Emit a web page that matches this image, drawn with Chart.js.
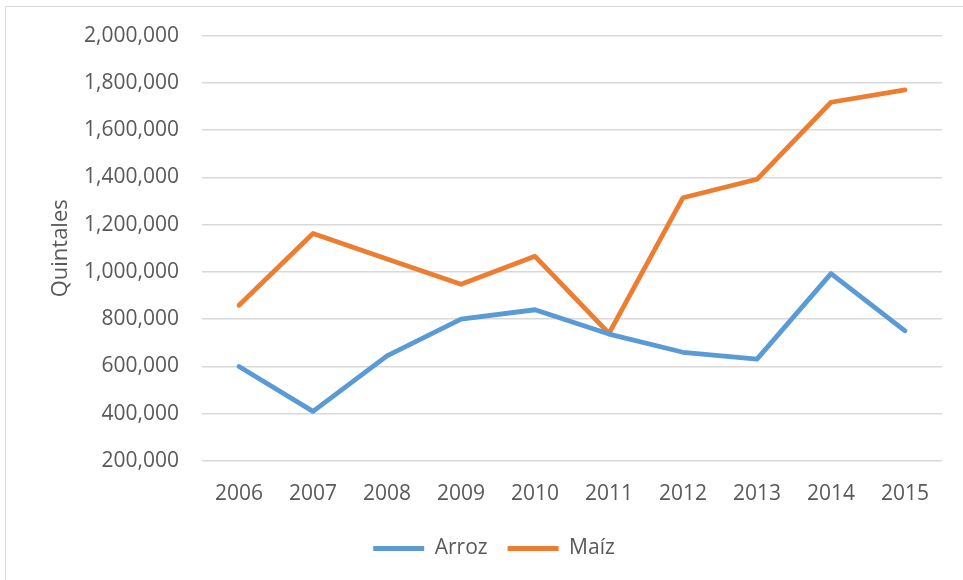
<!DOCTYPE html>
<html>
<head>
<meta charset="utf-8">
<script src="https://cdn.jsdelivr.net/npm/chart.js@4.4.1/dist/chart.umd.min.js"></script>
<style>
  html, body { margin: 0; padding: 0; background: #fff; }
  body { width: 963px; height: 580px; overflow: hidden; position: relative; }
  #frame { position: absolute; left: 5px; top: 6px; width: 1000px; height: 620px; border: 1.5px solid #d9d9d9; box-sizing: border-box; }
  #wrap { position: absolute; left: 0; top: 0; width: 963px; height: 580px; }
</style>
</head>
<body>
<div id="frame"></div>
<div id="wrap"><canvas id="chart" width="963" height="580"></canvas></div>
<script>
// Production by year (quintales)
const years = ['2006', '2007', '2008', '2009', '2010', '2011', '2012', '2013', '2014', '2015'];
const arroz = [600000, 410000, 645000, 800000, 840000, 737000, 660000, 631000, 993000, 751000];
const maiz = [859000, 1163000, 1055000, 948000, 1066000, 740000, 1314000, 1392000, 1718000, 1770000];
const seriesNames = ['Arroz', 'Maíz'];
const yAxisTitle = 'Quintales';

const FONT = "'Open Sans', 'DejaVu Sans', sans-serif";
const TEXT = '#595959';
const GRID = '#d9d9d9';

new Chart(document.getElementById('chart'), {
  type: 'line',
  data: {
    labels: years,
    datasets: [
      {
        label: seriesNames[0], data: arroz,
        borderColor: '#5B9BD5', backgroundColor: '#5B9BD5',
        borderWidth: 4.8, pointRadius: 0, tension: 0,
        borderCapStyle: 'round', borderJoinStyle: 'round'
      },
      {
        label: seriesNames[1], data: maiz,
        borderColor: '#ED7D31', backgroundColor: '#ED7D31',
        borderWidth: 4.8, pointRadius: 0, tension: 0,
        borderCapStyle: 'round', borderJoinStyle: 'round'
      }
    ]
  },
  options: {
    responsive: false,
    animation: false,
    layout: { padding: { left: 46, right: 21, top: 35, bottom: 11 } },
    plugins: {
      tooltip: { enabled: false },
      legend: {
        position: 'bottom',
        labels: {
          usePointStyle: true,
          pointStyle: 'line',
          pointStyleWidth: 51,
          padding: 20,
          color: TEXT,
          font: { family: FONT, size: 21 }
        }
      }
    },
    scales: {
      x: {
        offset: true,
        grid: { display: false, drawTicks: false },
        border: { display: false },
        ticks: { color: TEXT, font: { family: FONT, size: 21 }, padding: 20, maxRotation: 0 },
        afterFit: s => { s.height = 57; }
      },
      y: {
        min: 200000,
        max: 2000000,
        grid: { color: GRID, lineWidth: 1.5, drawTicks: false },
        border: { display: false },
        ticks: {
          stepSize: 200000,
          color: TEXT,
          font: { family: FONT, size: 21 },
          padding: 23,
          callback: v => v.toLocaleString('en-US')
        },
        title: {
          display: true,
          text: yAxisTitle,
          color: TEXT,
          font: { family: FONT, size: 22 },
          padding: { top: 2, bottom: 0 }
        },
        afterFit: s => { s.width = 156; }
      }
    }
  }
});
</script>
</body>
</html>
